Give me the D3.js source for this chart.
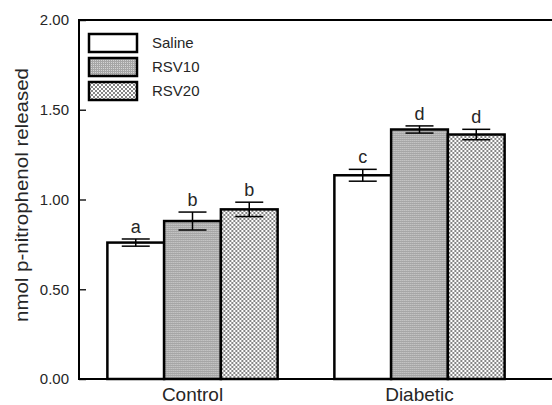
<!DOCTYPE html>
<html>
<head>
  <script src="https://d3js.org/d3.v7.min.js"></script>
  <style>
    body { margin: 0; background: #fff; }
    text { font-family: "Liberation Sans", Arial, sans-serif; fill: #262626; }
  </style>
</head>
<body>
  <div id="chart"></div>
  <script>
    // data
    var groups = ["Control", "Diabetic"];
    var series = ["Saline", "RSV10", "RSV20"];
    var means = [
      [0.76, 0.88, 0.945],
      [1.135, 1.39, 1.362]
    ];
    var errors = [
      [0.02, 0.05, 0.04],
      [0.033, 0.02, 0.029]
    ];
    var letters = [
      ["a", "b", "b"],
      ["c", "d", "d"]
    ];
    var yTicks = [0, 0.5, 1, 1.5, 2];

    var width = 552, height = 405;
    var plotLeft = 79, plotTop = 20, plotBottom = 379;

    var svg = d3.select("#chart").append("svg")
      .attr("width", width)
      .attr("height", height);

    // fill patterns
    var defs = svg.append("defs");
    var p1 = defs.append("pattern").attr("id", "pat-rsv10")
      .attr("patternUnits", "userSpaceOnUse").attr("width", 2).attr("height", 2);
    p1.append("rect").attr("width", 2).attr("height", 2).attr("fill", "#a6a6a6");
    p1.append("rect").attr("width", 1).attr("height", 1).attr("fill", "#d4d4d4");

    var p2 = defs.append("pattern").attr("id", "pat-rsv20")
      .attr("patternUnits", "userSpaceOnUse").attr("width", 4).attr("height", 4);
    p2.append("rect").attr("width", 4).attr("height", 4).attr("fill", "#858585");
    p2.append("rect").attr("width", 2).attr("height", 2).attr("fill", "#fff");
    p2.append("rect").attr("x", 2).attr("y", 2).attr("width", 2).attr("height", 2).attr("fill", "#fff");

    var fills = {"Saline": "#fff", "RSV10": "url(#pat-rsv10)", "RSV20": "url(#pat-rsv20)"};

    var y = d3.scaleLinear().domain([0, 2]).range([plotBottom, plotTop]);
    var x0 = d3.scaleBand().domain(groups).range([plotLeft, 533])
      .paddingInner(0.25).paddingOuter(0.125);
    var x1 = d3.scaleBand().domain(series).range([0, x0.bandwidth()]);

    // y axis with inward ticks
    var yAxis = svg.append("g")
      .attr("transform", "translate(" + plotLeft + ",0)")
      .call(d3.axisLeft(y).tickValues(yTicks).tickFormat(d3.format(".2f"))
        .tickSizeInner(-7).tickSizeOuter(0).tickPadding(10));
    yAxis.select(".domain").remove();
    yAxis.selectAll("line").attr("stroke", "#222").attr("stroke-width", 1.5);
    yAxis.selectAll("text").style("font-size", "15px").attr("fill", "#262626");

    // x axis labels
    var xAxis = svg.append("g")
      .attr("transform", "translate(0," + plotBottom + ")")
      .call(d3.axisBottom(x0).tickSize(0).tickPadding(9));
    xAxis.select(".domain").remove();
    xAxis.selectAll("text").style("font-size", "19px").attr("fill", "#262626");

    // bars
    var g = svg.selectAll(".grp")
      .data(groups)
      .enter().append("g")
      .attr("class", "grp")
      .attr("transform", function (d) { return "translate(" + x0(d) + ",0)"; });

    g.each(function (grp, gi) {
      var sel = d3.select(this);
      series.forEach(function (s, si) {
        var v = means[gi][si], e = errors[gi][si];
        var cx = x1(s) + x1.bandwidth() / 2;
        sel.append("rect")
          .attr("x", x1(s))
          .attr("y", y(v))
          .attr("width", x1.bandwidth())
          .attr("height", y(0) - y(v))
          .attr("fill", fills[s])
          .attr("stroke", "#000")
          .attr("stroke-width", 2.5);
        // error bar
        sel.append("line")
          .attr("x1", cx).attr("x2", cx)
          .attr("y1", y(v - e)).attr("y2", y(v + e))
          .attr("stroke", "#000").attr("stroke-width", 1.5);
        [v - e, v + e].forEach(function (yy) {
          sel.append("line")
            .attr("x1", cx - 14).attr("x2", cx + 14)
            .attr("y1", y(yy)).attr("y2", y(yy))
            .attr("stroke", "#000").attr("stroke-width", 1.5);
        });
        sel.append("text")
          .attr("x", cx)
          .attr("y", y(v + e) - 6)
          .attr("text-anchor", "middle")
          .style("font-size", "18px")
          .text(letters[gi][si]);
      });
    });

    // frame: left axis, top border and baseline
    svg.append("path")
      .attr("d", "M" + (width + 5) + "," + plotTop + "H" + plotLeft + "V" + plotBottom + "H" + (width + 5))
      .attr("fill", "none")
      .attr("stroke", "#000")
      .attr("stroke-width", 2);

    // legend
    var legend = svg.append("g").attr("transform", "translate(89,34)");
    series.forEach(function (s, i) {
      legend.append("rect")
        .attr("x", 0).attr("y", i * 24)
        .attr("width", 48).attr("height", 18)
        .attr("fill", fills[s])
        .attr("stroke", "#000")
        .attr("stroke-width", 2.5);
      legend.append("text")
        .attr("x", 63).attr("y", i * 24 + 9)
        .attr("dy", "0.35em")
        .style("font-size", "15px")
        .text(s);
    });

    // y axis title
    svg.append("text")
      .attr("transform", "translate(28,195) rotate(-90)")
      .attr("text-anchor", "middle")
      .attr("textLength", 254)
      .attr("lengthAdjust", "spacingAndGlyphs")
      .style("font-size", "19px")
      .text("nmol p-nitrophenol released");
  </script>
</body>
</html>
